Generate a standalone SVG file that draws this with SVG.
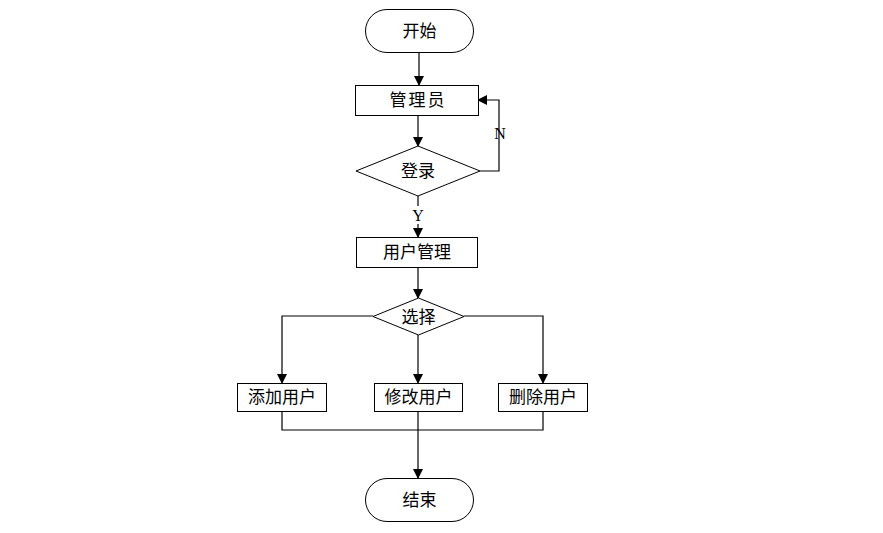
<svg xmlns="http://www.w3.org/2000/svg" width="883" height="533" viewBox="0 0 883 533">
<defs>
<marker id="ah" markerWidth="10" markerHeight="10" refX="9" refY="5" orient="auto" markerUnits="userSpaceOnUse">
<path d="M0,0 L10,5 L0,10 Z" fill="#000"/>
</marker>
<style>
.s{fill:#fff;stroke:#000;stroke-width:1}
.t{font-family:"Liberation Serif","Noto Sans CJK SC",serif;font-size:17px;fill:#000;text-anchor:middle;dominant-baseline:central}
.l{font-family:"Liberation Serif","Noto Sans CJK SC",serif;font-size:16px;fill:#000;text-anchor:middle;dominant-baseline:central}
.c{fill:none;stroke:#000;stroke-width:1.2}
</style>
</defs>
<rect width="883" height="533" fill="#fff"/>
<g id="connectors">
<path class="c" d="M419,52 V85" marker-end="url(#ah)"/>
<path class="c" d="M418,115 V146" marker-end="url(#ah)"/>
<path class="c" d="M480,171 H499 V100 H478" marker-end="url(#ah)"/>
<path class="c" d="M418,196 V237" marker-end="url(#ah)"/>
<path class="c" d="M418,267 V298" marker-end="url(#ah)"/>
<path class="c" d="M373,316 H282 V383" marker-end="url(#ah)"/>
<path class="c" d="M418,335 V383" marker-end="url(#ah)"/>
<path class="c" d="M464,316 H543 V383" marker-end="url(#ah)"/>
<path class="c" d="M282,411 V430 H543 V411"/>
<path class="c" d="M418,411 V478" marker-end="url(#ah)"/>
<rect x="411" y="206" width="14" height="18" fill="#fff"/>
<text class="l" x="418" y="215">Y</text>
<text class="l" x="500" y="133">N</text>
</g>
<g id="start"><rect class="s" x="365.5" y="9.5" width="108" height="43" rx="21.5"/><text class="t" x="419.5" y="31">开始</text></g>
<g id="admin"><rect class="s" x="355.5" y="85.5" width="123" height="30"/><text class="t" x="418" y="100.5" letter-spacing="2">管理员</text></g>
<g id="login"><polygon class="s" points="356,171 418,146 480,171 418,196"/><text class="t" x="418" y="171">登录</text></g>
<g id="usermgmt"><rect class="s" x="356.5" y="237.5" width="121" height="30"/><text class="t" x="417" y="252">用户管理</text></g>
<g id="choose"><polygon class="s" points="373,316.5 418.5,298 464,316.5 418.5,335"/><text class="t" x="418.5" y="317">选择</text></g>
<g id="add"><rect class="s" x="237.5" y="383.5" width="89" height="28"/><text class="t" x="282" y="397">添加用户</text></g>
<g id="modify"><rect class="s" x="374.5" y="383.5" width="88" height="28"/><text class="t" x="418.5" y="397">修改用户</text></g>
<g id="delete"><rect class="s" x="498.5" y="383.5" width="89" height="28"/><text class="t" x="543" y="397">删除用户</text></g>
<g id="end"><rect class="s" x="365.5" y="478.5" width="108" height="43" rx="21.5"/><text class="t" x="419.5" y="500">结束</text></g>
</svg>
